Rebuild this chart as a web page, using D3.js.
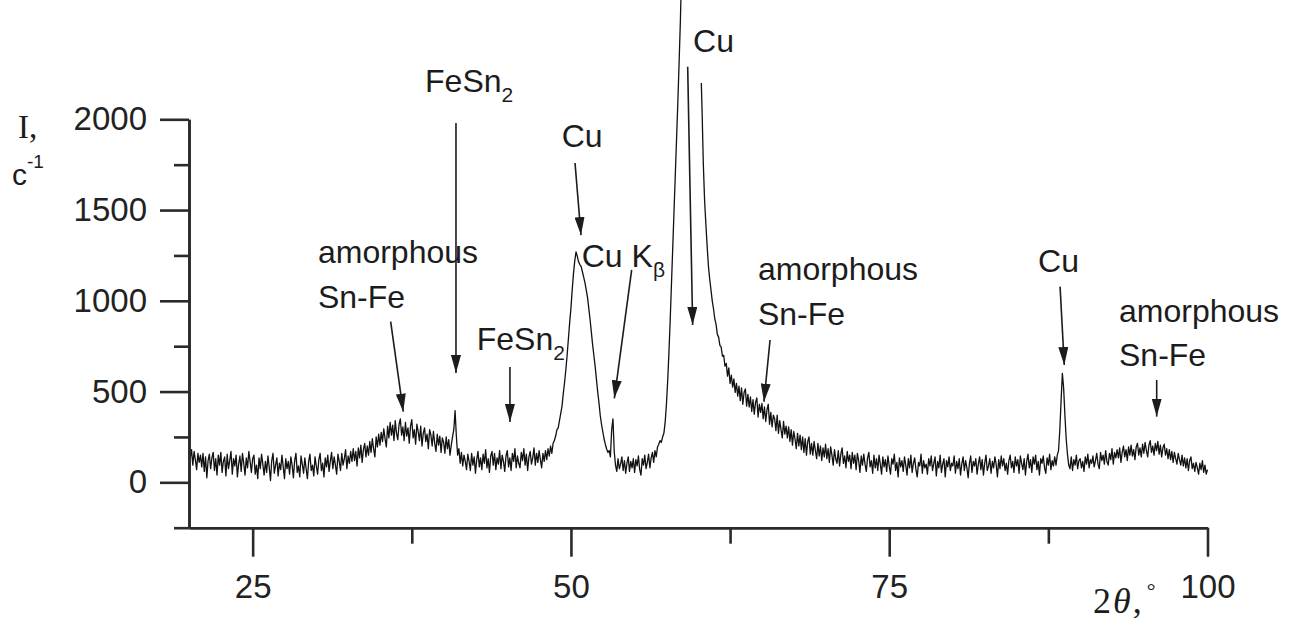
<!DOCTYPE html>
<html>
<head>
<meta charset="utf-8">
<script src="https://cdn.jsdelivr.net/npm/d3@7"></script>
<style>
  html, body { margin: 0; padding: 0; background: #fff; }
  svg { display: block; }
  .sans { font-family: "Liberation Sans", Arial, sans-serif; }
  .serif { font-family: "Liberation Serif", "Times New Roman", serif; }
</style>
</head>
<body>
<svg id="chart" width="1301" height="625"></svg>
<script>
// Diffraction pattern: intensity sampled every 0.1 degree of 2-theta, from 20 to 100
const twoThetaStart = 20;
const twoThetaStep = 0.1;
const intensity = [
  200,135,180, 95,170,125, 70,160,110,150,   // 20
   85,160, 60,140, 25,120,155, 75,135,165,   // 21
   65,130, 40,150, 95,165, 55,115,140, 35,   // 22
  155, 75,120,170, 45,130, 90,150, 30,100,   // 23
  145, 60,160,105, 40,135, 80,170,115, 55,   // 24
  130,150, 45, 95, 20,135, 75,155,100, 40,   // 25
  115, 55,145, 85, 10,120,160, 50, 95,135,   // 26
   35,105, 70,150, 85, 20,130, 75,115, 45,   // 27
  140, 95, 25,120,160, 55, 90, 30,145,100,   // 28
   50,135, 75, 20,115,155, 65, 95, 35,140,   // 29
   90, 45,125,160, 65,105, 30,135, 85,150,   // 30
   60,115,165, 75,140, 95, 45,155,115, 65,   // 31
  160, 95,130,180, 75,145,105,170,115,185,   // 32
  120,170, 90,190,135,205,110,180,215,140,   // 33
  200,150,225,165,240,185,140,250,195,265,   // 34
  205,275,225,295,240,195,310,245,330,260,   // 35
  315,230,340,270,235,320,350,260,305,230,   // 36
  330,255,300,215,310,345,245,290,210,320,   // 37
  280,230,310,200,270,300,225,265,185,290,   // 38
  260,200,280,215,170,265,205,255,165,245,   // 39
  220,160,250,185,235,150,205,250,290,395,   // 40
  255,150,185,105,165, 90,150,115, 70,155,   // 41
  115, 65,160, 95,140, 50,125,170, 85,135,   // 42
   70,155,105,180, 80,130, 55,145,170, 95,   // 43
  160, 70,135,100,175, 75,150,115, 60,145,   // 44
  175, 85,135, 65,160,115,185, 80,145,105,   // 45
   80,165,120,185, 95,155, 65,140,170,100,   // 46
  135,190, 95,160,110,175,125, 80,160,115,   // 47
  175,125,185,145,200,160,215,230,255,290,   // 48
  300,340,380,420,490,550,620,700,790,880,   // 49
  960,1060,1150,1220,1270,1245,1215,1200,1190,1160,   // 50
  1130,1100,1060,1020,960,900,830,760,700,640,        // 51
  570,500,440,370,320,280,240,210,185,165,   // 52
  175,140,290,350,170, 95, 60,130, 75,100,   // 53
  140, 65,120, 50,105,140, 60,115, 80,130,   // 54
   55,125, 90,145, 70, 40,130, 95,150, 75,   // 55
  110,155, 80,135,165,110,175,140,195,210,   // 56
  230,220,250,270,330,430,560,720,900,1100,  // 57
  1300,1500,1700,1900,2100,2320,2550,2850,3200,3500,  // 58
  3800,4000,4150,4200,4150,4000,3800,3550,3250,2950,  // 59
  2650,2450,2300,2050,1750,1550,1420,1300,1190,1120,  // 60
  1060,1000,955,900,870,815,800,755,745,695,          // 61
  700,640,655,585,630,545,590,525,570,495,   // 62
  545,475,530,450,520,430,495,515,420,485,   // 63
  415,470,390,455,375,440,465,360,430,385,   // 64
  435,350,415,335,400,430,320,385,305,370,   // 65
  350,285,370,270,340,290,245,335,265,310,   // 66
  245,305,225,290,205,280,240,185,270,200,   // 67
  260,180,250,165,240,150,225,250,155,215,   // 68
  150,225,175,130,215,145,200,120,190,140,   // 69
  210,130,185,110,195,150, 95,180,130,105,   // 70
  175, 90,155,190,105,145, 80,170,115,150,   // 71
   75,165,105,150, 70,160,120, 55,145, 95,   // 72
  155,100, 60,135,165, 85,120, 50,150, 80,   // 73
  130, 65,150,100, 45,140, 85,125, 60,145,   // 74
   90, 45,130,100,155, 65,110, 30,135, 85,   // 75
  120, 60,140, 95, 40,130, 80,150, 55,105,   // 76
  135, 70, 30,110, 90,155, 50,120, 80,100,   // 77
   45,130, 90,145, 65,105,140, 35,115, 80,   // 78
  150, 55,100,130, 30,120, 85,140, 65,105,   // 79
   90,145, 50,115, 75,130, 40,100,140, 65,   // 80
  120, 80, 25,105,145, 55,115, 90,130, 45,   // 81
  100,140, 70,125, 40,105,150, 65, 90,130,   // 82
   50,115, 80,140,100, 30,125, 75,145, 90,   // 83
  130, 65,105, 45,120,150, 80,115, 55,140,   // 84
   90,125, 50,145,105, 70,130, 40,115,155,   // 85
   80,125, 55,140,100,150, 70,115, 40,130,   // 86
  105,145, 80, 50,135, 95,155, 70,120, 90,   // 87
  140, 95,150,175,290,450,600,520,370,240,   // 88
  155, 95, 75,140, 65,125, 95,150, 75,120,   // 89
  130, 80,115, 60,140,100,155, 80,125,105,   // 90
  145, 85,120,160,100, 75,165,120,150,100,   // 91
  175,115, 95,160,125,185,100,165,135,180,   // 92
  135,190,110,165,200,140,180,120,195,150,   // 93
  205,145,180,125,195,215,150,190,140,210,   // 94
  160,220,175,140,205,230,165,200,150,215,   // 95
  175,225,155,205,140,190,210,150,185,130,   // 96
  180,125,170,110,165,130,100,160,125, 95,   // 97
  150, 90,135, 80,130, 65,120,140, 75,105,   // 98
   60,110, 80, 45,105, 70,120, 55, 95, 45,   // 99
   70                                        // 100
];

// Axis ticks
const xMajorTicks = [25, 50, 75, 100];
const xMinorTicks = [37.5, 62.5, 87.5];
const yMajorTicks = [0, 500, 1000, 1500, 2000];
const yMinorTicks = [-250, 250, 750, 1250, 1750];

// Peak annotations: label lines ("|" starts a subscript), label anchor (2theta, I),
// arrow tail and arrow tip (2theta, I)
const annLabels = [
  ["amorphous", "Sn-Fe"],
  ["FeSn|2"],
  ["FeSn|2"],
  ["Cu"],
  ["Cu K|β"],
  ["Cu"],
  ["amorphous", "Sn-Fe"],
  ["Cu"],
  ["amorphous", "Sn-Fe"]
];
const annText = [
  [30.13, 1207], [38.54, 2152], [42.60, 729], [49.27, 1847], [50.85, 1188],
  [59.59, 2372], [64.69, 1115], [86.69, 1160], [93.05, 885]
];
const annArrowFrom = [
  [35.84, 885], [40.97, 1980], [45.21, 635], [50.32, 1759], [54.77, 1170],
  [59.17, 2290], [65.64, 784], [88.42, 1078], [96.01, 564]
];
const annArrowTo = [
  [36.83, 389], [40.97, 602], [45.21, 332], [50.79, 1362], [53.41, 463],
  [59.56, 867], [65.16, 444], [88.75, 646], [96.01, 362]
];
// Label with an opaque background box (2theta range, intensity range)
const boxedLabel = 5;
const boxedExtent = [[59.3, 64.0], [2200, 2700]];

const svg = d3.select("#chart");
const ink = "#1c1c1c";

const x = d3.scaleLinear().domain([20, 100]).range([189, 1207.5]);
const y = d3.scaleLinear().domain([-250, 2000]).range([527.7, 119.3]);

const defs = svg.append("defs");
defs.append("clipPath").attr("id", "plotClip")
  .append("rect").attr("x", 189).attr("y", 0).attr("width", 1020).attr("height", 527);

// Pattern line
const points = intensity.map((v, i) => [twoThetaStart + i * twoThetaStep, v]);
svg.append("path")
  .datum(points)
  .attr("clip-path", "url(#plotClip)")
  .attr("fill", "none")
  .attr("stroke", "#111")
  .attr("stroke-width", 1.3)
  .attr("stroke-linejoin", "round")
  .attr("d", d3.line().x(d => x(d[0])).y(d => y(d[1])));

// Axes
function styleAxis(g) {
  g.selectAll("path.domain").attr("stroke", "#2a2a2a").attr("stroke-width", 2.6);
  g.selectAll(".tick line").attr("stroke", "#2a2a2a").attr("stroke-width", 2.6);
  g.selectAll(".tick text")
    .attr("class", "sans")
    .attr("fill", "#222")
    .style("font-size", "33px");
}

svg.append("g")
  .attr("transform", `translate(0,${y(-250)})`)
  .call(d3.axisBottom(x).tickValues(xMinorTicks).tickSize(16).tickSizeOuter(0).tickFormat(""))
  .call(styleAxis);
svg.append("g")
  .attr("transform", `translate(0,${y(-250)})`)
  .call(d3.axisBottom(x).tickValues(xMajorTicks).tickSize(29).tickSizeOuter(0).tickPadding(18).tickFormat(d3.format("d")))
  .call(styleAxis);

svg.append("g")
  .attr("transform", `translate(${x(20)},0)`)
  .call(d3.axisLeft(y).tickValues(yMinorTicks).tickSize(15).tickSizeOuter(0).tickFormat(""))
  .call(styleAxis);
svg.append("g")
  .attr("transform", `translate(${x(20)},0)`)
  .call(d3.axisLeft(y).tickValues(yMajorTicks).tickSize(29).tickSizeOuter(0).tickPadding(13).tickFormat(d3.format("d")))
  .call(styleAxis);

// Arrowhead marker
defs.append("marker")
  .attr("id", "head")
  .attr("viewBox", "0 0 18 10")
  .attr("refX", 18).attr("refY", 5)
  .attr("markerWidth", 18).attr("markerHeight", 10)
  .attr("markerUnits", "userSpaceOnUse")
  .attr("orient", "auto")
  .append("path").attr("d", "M0,0 L18,5 L0,10 Z").attr("fill", ink);

// Opaque label box over the top of the strongest reflection
svg.append("rect")
  .attr("x", x(boxedExtent[0][0]))
  .attr("y", y(boxedExtent[1][1]))
  .attr("width", x(boxedExtent[0][1]) - x(boxedExtent[0][0]))
  .attr("height", y(boxedExtent[1][0]) - y(boxedExtent[1][1]))
  .attr("fill", "#fff");

// Annotations
annLabels.forEach((lines, i) => {
  const t = svg.append("text")
    .attr("class", "sans")
    .attr("x", x(annText[i][0]))
    .attr("y", y(annText[i][1]))
    .attr("fill", ink)
    .style("font-size", "32px");
  lines.forEach((line, j) => {
    const [main, sub] = line.split("|");
    t.append("tspan")
      .attr("x", x(annText[i][0]))
      .attr("dy", j === 0 ? 0 : 44.7)
      .text(main);
    if (sub) {
      t.append("tspan").attr("dy", 10).style("font-size", "21px").text(sub);
    }
  });
  svg.append("line")
    .attr("x1", x(annArrowFrom[i][0])).attr("y1", y(annArrowFrom[i][1]))
    .attr("x2", x(annArrowTo[i][0])).attr("y2", y(annArrowTo[i][1]))
    .attr("stroke", ink)
    .attr("stroke-width", 1.6)
    .attr("marker-end", "url(#head)");
});

// Axis titles
const yTitle = svg.append("g");
yTitle.append("text").attr("class", "serif").attr("x", 18).attr("y", 138)
  .attr("fill", ink).style("font-size", "33px").text("I,");
const cText = yTitle.append("text").attr("class", "sans").attr("x", 12).attr("y", 185)
  .attr("fill", ink).style("font-size", "30px");
cText.append("tspan").text("c");
cText.append("tspan").attr("dy", -17).style("font-size", "19px").text("-1");

const xTitle = svg.append("text").attr("class", "serif").attr("x", 1093).attr("y", 613)
  .attr("fill", ink).style("font-size", "36px").style("letter-spacing", "2px");
xTitle.append("tspan").text("2");
xTitle.append("tspan").style("font-style", "italic").text("θ");
xTitle.append("tspan").text(",");
xTitle.append("tspan").attr("dy", -15).attr("dx", 3).style("font-size", "22px").text("°");
</script>
</body>
</html>
